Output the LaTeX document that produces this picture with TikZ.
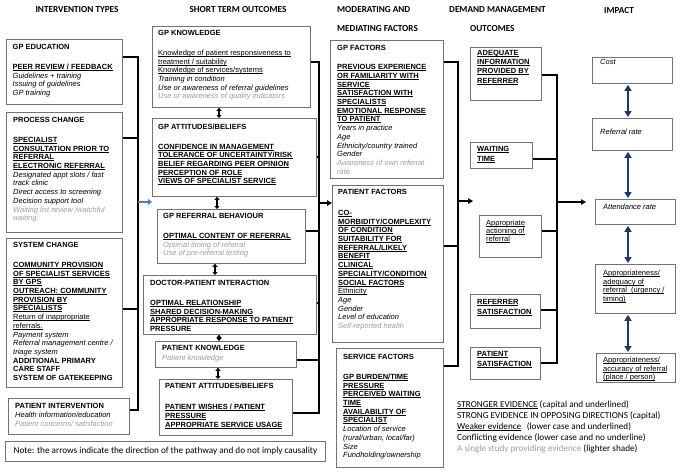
\documentclass[tikz,border=0pt]{standalone}
\usepackage{fontspec}
\setmainfont{Liberation Sans}
\newfontfamily\calf{Carlito}
\usetikzlibrary{arrows.meta,calc}
\definecolor{txtgrey}{rgb}{0.62,0.62,0.62}
\definecolor{boxline}{rgb}{0.45,0.45,0.45}
\definecolor{navyarr}{rgb}{0.12,0.22,0.40}
\definecolor{bluearr}{rgb}{0.30,0.50,0.75}
\newcommand\boxfont{\fontsize{7.5}{8.7}\selectfont}
\newcommand\hdfont{\calf\bfseries\fontsize{9.2}{11}\selectfont}
\newcommand\lgfont{\calf\fontsize{9.2}{10.8}\selectfont}
\newcommand\hU[1]{\setbox0\hbox{#1}\rlap{\rule[-1.2pt]{\wd0}{0.7pt}}\box0}
\newcommand\hB[1]{\textbf{#1}}
\newcommand\hBU[1]{\hU{\textbf{#1}}}
\newcommand\hI[1]{\textit{#1}}
\newcommand\hG[1]{\textcolor{txtgrey}{\itshape #1}}
\begin{document}
\begin{tikzpicture}[x=1pt,y=-1pt,
 box/.style={draw=boxline, line width=0.8pt, rectangle, inner sep=0pt, anchor=north west},
 txt/.style={anchor=north west, align=left, inner sep=0pt, font=\boxfont},
 hd/.style={inner sep=0pt, font=\hdfont},
 conn/.style={line width=1.3pt, black},
 flow/.style={line width=1.6pt, black, -{Triangle[length=5pt,width=5.5pt]}},
 dbl/.style={line width=1.8pt, black, {Triangle[length=3pt,width=5pt]}-{Triangle[length=3pt,width=5pt]}},
 navy/.style={line width=2.6pt, navyarr, shorten <=1pt, shorten >=1pt, {Triangle[length=6pt,width=7pt]}-{Triangle[length=6pt,width=7pt]}},
 bluea/.style={line width=2.2pt, bluearr, -{Triangle[length=4pt,width=6pt]}}
]
\fill[white] (0,0) rectangle (685,474);
\useasboundingbox (0,0) rectangle (685,474);

% headers
\node[hd] (h1) at (77,10) {INTERVENTION TYPES};
\node[hd] (h2) at (238,10) {SHORT TERM OUTCOMES};
\node[hd, anchor=west] (h3) at (337,10) {MODERATING AND};
\node[hd, anchor=west] (h3b) at (337,29) {MEDIATING FACTORS};
\node[hd, anchor=west] (h4) at (449,10) {DEMAND MANAGEMENT};
\node[hd, anchor=west] (h4b) at (470,29) {OUTCOMES};
\node[hd] (h5) at (619,11) {IMPACT};

% column 1
\node[box, minimum width=116pt, minimum height=65pt] (gpe) at (6,39) {};
\node[txt] (gpeT) at (12.5,44.3) {\hB{GP EDUCATION}\\[11pt]
\hBU{PEER REVIEW / FEEDBACK}\\
\hI{Guidelines + training}\\
\hI{Issuing of guidelines}\\
\hI{GP training}};

\node[box, minimum width=116pt, minimum height=120pt] (pc) at (6,112) {};
\node[txt] (pcT) at (13,117.3) {\hB{PROCESS CHANGE}\\[11pt]
\hBU{SPECIALIST}\\
\hBU{CONSULTATION PRIOR TO}\\
\hBU{REFERRAL}\\
\hBU{ELECTRONIC REFERRAL}\\
\hI{Designated appt slots / fast}\\
\hI{track clinic}\\
\hI{Direct access to screening}\\
\hI{Decision support tool}\\
\hG{Waiting list review /watchful}\\
\hG{waiting}};

\node[box, minimum width=116pt, minimum height=149pt] (sc) at (6,238) {};
\node[txt] (scT) at (13,242.3) {\hB{SYSTEM CHANGE}\\[11pt]
\hBU{COMMUNITY PROVISION}\\
\hBU{OF SPECIALIST SERVICES}\\
\hBU{BY GPS}\\
\hBU{OUTREACH: COMMUNITY}\\
\hBU{PROVISION BY}\\
\hBU{SPECIALISTS}\\
\hU{Return of inappropriate}\\
\hU{referrals.}\\
\hI{Payment system}\\
\hI{Referral management centre /}\\
\hI{triage system}\\
\hB{ADDITIONAL PRIMARY}\\
\hB{CARE STAFF}\\
\hB{SYSTEM OF GATEKEEPING}};

\node[box, minimum width=121pt, minimum height=36pt] (pi) at (8,398) {};
\node[txt] (piT) at (15,403.3) {\hB{PATIENT INTERVENTION}\\[0.3pt]
\hI{Health information/education}\\[0.3pt]
\hG{Patient concerns/ satisfaction}};

% column 2
\node[box, minimum width=158pt, minimum height=81pt] (gpk) at (152,26) {};
\node[txt] (gpkT) at (158,30.3) {\hB{GP KNOWLEDGE}\\[11pt]
\hU{Knowledge of patient responsiveness to}\\
\hU{treatment / suitability}\\
\hU{Knowledge of services/systems}\\
\hI{Training in condition}\\
\hI{Use or awareness of referral guidelines}\\
\hG{Use or awareness of quality indicators}};

\node[box, minimum width=164pt, minimum height=78pt] (gpa) at (152,118) {};
\node[txt] (gpaT) at (158,124.3) {\hB{GP ATTITUDES/BELIEFS}\\[10.5pt]
\hBU{CONFIDENCE IN MANAGEMENT}\\
\hBU{TOLERANCE OF UNCERTAINTY/RISK}\\
\hBU{BELIEF REGARDING PEER OPINION}\\
\hBU{PERCEPTION OF ROLE}\\
\hBU{VIEWS OF SPECIALIST SERVICE}};

\node[box, minimum width=148pt, minimum height=54pt] (gpr) at (157,209) {};
\node[txt] (gprT) at (163,213.3) {\hB{GP REFERRAL BEHAVIOUR}\\[11pt]
\hBU{OPTIMAL CONTENT OF REFERRAL}\\
\hG{Optimal timing of referral}\\
\hG{Use of pre-referral testing}};

\node[box, minimum width=173pt, minimum height=59pt] (dpi) at (143,275) {};
\node[txt] (dpiT) at (150,280.3) {\hB{DOCTOR-PATIENT INTERACTION}\\[11pt]
\hBU{OPTIMAL RELATIONSHIP}\\
\hBU{SHARED DECISION-MAKING}\\
\hBU{APPROPRIATE RESPONSE TO PATIENT}\\
\hB{PRESSURE}};

\node[box, minimum width=141pt, minimum height=26pt] (pk) at (155,341) {};
\node[txt] (pkT) at (162,345.3) {\hB{PATIENT KNOWLEDGE}\\[1.3pt]
\hG{Patient knowledge}};

\node[box, minimum width=133pt, minimum height=56pt] (pa) at (159,379) {};
\node[txt] (paT) at (165,383.3) {\hB{PATIENT ATTITUDES/BELIEFS}\\[12pt]
\hBU{PATIENT WISHES / PATIENT}\\
\hBU{PRESSURE}\\
\hBU{APPROPRIATE SERVICE USAGE}};

% column 3
\node[box, minimum width=113pt, minimum height=138pt] (gpf) at (330,40) {};
\node[txt] (gpfT) at (337,45.3) {\hB{GP FACTORS}\\[10.3pt]
\hBU{PREVIOUS EXPERIENCE}\\
\hBU{OR FAMILIARITY WITH}\\
\hBU{SERVICE}\\
\hBU{SATISFACTION WITH}\\
\hBU{SPECIALISTS}\\
\hBU{EMOTIONAL RESPONSE}\\
\hBU{TO PATIENT}\\
\hI{Years in practice}\\
\hI{Age}\\
\hI{Ethnicity/country trained}\\
\hI{Gender}\\
\hG{Awareness of own referral}\\
\hG{rate}};

\node[box, minimum width=111pt, minimum height=157pt] (ptf) at (332,185) {};
\node[txt] (ptfT) at (338,189.3) {\hB{PATIENT FACTORS}\\[12pt]
\hBU{CO-}\\
\hBU{MORBIDITY/COMPLEXITY}\\
\hBU{OF CONDITION}\\
\hBU{SUITABILITY FOR}\\
\hBU{REFERRAL/LIKELY}\\
\hBU{BENEFIT}\\
\hBU{CLINICAL}\\
\hBU{SPECIALITY/CONDITION}\\
\hBU{SOCIAL FACTORS}\\
\hU{Ethnicity}\\
\hI{Age}\\
\hI{Gender}\\
\hI{Level of education}\\
\hG{Self-reported health}};

\node[box, minimum width=107pt, minimum height=119pt] (svf) at (336,348) {};
\node[txt] (svfT) at (343,354.3) {\hB{SERVICE FACTORS}\\[11pt]
\hBU{GP BURDEN/TIME}\\
\hBU{PRESSURE}\\
\hBU{PERCEIVED WAITING}\\
\hBU{TIME}\\
\hBU{AVAILABILITY OF}\\
\hBU{SPECIALIST}\\
\hI{Location of service}\\
\hI{(rural/urban, local/far)}\\
\hI{Size}\\
\hI{Fundholding/ownership}};

% column 4
\node[box, minimum width=71pt, minimum height=53pt] (adq) at (470,47) {};
\node[txt] (adqT) at (477,50.3) {\hBU{ADEQUATE}\\[0.4pt]
\hBU{INFORMATION}\\[0.4pt]
\hBU{PROVIDED BY}\\[0.4pt]
\hBU{REFERRER}};

\node[box, minimum width=62pt, minimum height=26pt] (wt) at (470,142) {};
\node[txt] (wtT) at (477,146.3) {\hBU{WAITING}\\[1.3pt]
\hBU{TIME}};

\node[box, minimum width=62pt, minimum height=42pt] (aa) at (479,215) {};
\node[txt] (aaT) at (486,220.3) {\hU{Appropriate}\\[-0.7pt]
\hU{actioning of}\\[-0.7pt]
\hU{referral}};

\node[box, minimum width=70pt, minimum height=34pt] (rs) at (470,294) {};
\node[txt] (rsT) at (477,299.3) {\hBU{REFERRER}\\[1.3pt]
\hBU{SATISFACTION}};

\node[box, minimum width=70pt, minimum height=32pt] (ps) at (470,347) {};
\node[txt] (psT) at (477,351.3) {\hBU{PATIENT}\\[1.3pt]
\hBU{SATISFACTION}};

% impact
\node[box, minimum width=80pt, minimum height=26pt] (cost) at (592,57) {};
\node[txt] (costT) at (600,59.3) {\hI{Cost}};
\node[box, minimum width=80pt, minimum height=32pt] (rr) at (592,118) {};
\node[txt] (rrT) at (600,129.3) {\hI{Referral rate}};
\node[box, minimum width=80pt, minimum height=25pt] (att) at (595,199) {};
\node[txt] (attT) at (603,204.3) {\hI{Attendance rate}};
\node[box, minimum width=80pt, minimum height=49pt] (apa) at (595,264) {};
\node[txt] (apaT) at (603,270.3) {\hU{Appropriateness/}\\[-0.3pt]
\hU{adequacy of}\\[-0.3pt]
\hU{referral\ \ (urgency /}\\[-0.3pt]
\hU{timing)}};
\node[box, minimum width=79pt, minimum height=29pt] (apc) at (596,353) {};
\node[txt] (apcT) at (603,357.3) {\hU{Appropriateness/}\\[-0.2pt]
\hU{accuracy of referral}\\[-0.2pt]
\hU{(place / person)}};

% note and legend
\node[box, minimum width=320pt, minimum height=20pt, font=\lgfont] (note) at (5,441) {Note: the arrows indicate the direction of the pathway and do not imply causality};
\node[anchor=north west, align=left, inner sep=0pt, font=\lgfont] (legend) at (457,401) {\hU{STRONGER EVIDENCE}\ (capital and underlined)\\
STRONG EVIDENCE IN OPPOSING DIRECTIONS (capital)\\
\hU{Weaker evidence}\hspace{0.6em}(lower case and underlined)\\
Conflicting evidence (lower case and no underline)\\
\textcolor{txtgrey}{A single study providing evidence}\ (lighter shade)};

% bus 1
\coordinate (b1a) at (138,57);
\coordinate (b1b) at (138,138);
\coordinate (b1c) at (138,309);
\coordinate (b1d) at (138,410);
\coordinate (b1m) at (138,202);
\coordinate (b1e) at (152,202);
\draw[conn] (b1a -| gpe.east) -- (b1a) -- (b1d) -- (b1d -| pi.east);
\draw[conn] (b1b -| pc.east) -- (b1b);
\draw[conn] (b1c -| sc.east) -- (b1c);
\draw[bluea] (b1m) -- (b1e);

% bus 2
\coordinate (b2a) at (319,62);
\coordinate (b2b) at (319,157);
\coordinate (b2c) at (319,231);
\coordinate (b2d) at (319,303);
\coordinate (b2e) at (319,360);
\coordinate (b2f) at (319,413);
\coordinate (b2m) at (319,203);
\draw[conn] (b2a -| gpk.east) -- (b2a) -- (b2f) -- (b2f -| pa.east);
\draw[conn] (b2b -| gpa.east) -- (b2b);
\draw[conn] (b2c -| gpr.east) -- (b2c);
\draw[conn] (b2d -| dpi.east) -- (b2d);
\draw[conn] (b2e -| pk.east) -- (b2e);
\draw[flow] (b2m) -- (b2m -| ptf.west);

% bus 3
\coordinate (b3a) at (458,62);
\coordinate (b3b) at (458,246);
\coordinate (b3c) at (458,366);
\coordinate (b3m) at (458,201);
\coordinate (b3e) at (473,201);
\draw[conn] (b3a -| gpf.east) -- (b3a) -- (b3c) -- (b3c -| svf.east);
\draw[conn] (b3b -| ptf.east) -- (b3b);
\draw[flow] (b3m) -- (b3e);

% bus 4
\coordinate (b4a) at (557,75);
\coordinate (b4b) at (557,159);
\coordinate (b4c) at (557,231);
\coordinate (b4d) at (557,310);
\coordinate (b4f) at (557,363);
\coordinate (b4m) at (557,202);
\coordinate (b4e) at (586,202);
\draw[conn] (b4a -| adq.east) -- (b4a) -- (b4f) -- (b4f -| ps.east);
\draw[conn] (b4b -| wt.east) -- (b4b);
\draw[conn] (b4c -| aa.east) -- (b4c);
\draw[conn] (b4d -| rs.east) -- (b4d);
\draw[flow] (b4m) -- (b4e);

% column 2 double arrows
\coordinate (d1) at (219,0);
\coordinate (d2) at (217,0);
\coordinate (d3) at (215,0);
\coordinate (d4) at (219,0);
\coordinate (d5) at (218,0);
\draw[dbl] (gpk.south -| d1) -- (gpa.north -| d1);
\draw[dbl] (gpa.south -| d2) -- (gpr.north -| d2);
\draw[dbl] (gpr.south -| d3) -- (dpi.north -| d3);
\draw[dbl] (dpi.south -| d4) -- (pk.north -| d4);
\draw[dbl] (pk.south -| d5) -- (pa.north -| d5);

% impact arrows
\coordinate (ax) at (628,0);
\draw[navy] (cost.south -| ax) -- (rr.north -| ax);
\draw[navy] (rr.south -| ax) -- (att.north -| ax);
\draw[navy] (att.south -| ax) -- (apa.north -| ax);
\draw[navy] (apa.south -| ax) -- (apc.north -| ax);
\end{tikzpicture}
\end{document}
